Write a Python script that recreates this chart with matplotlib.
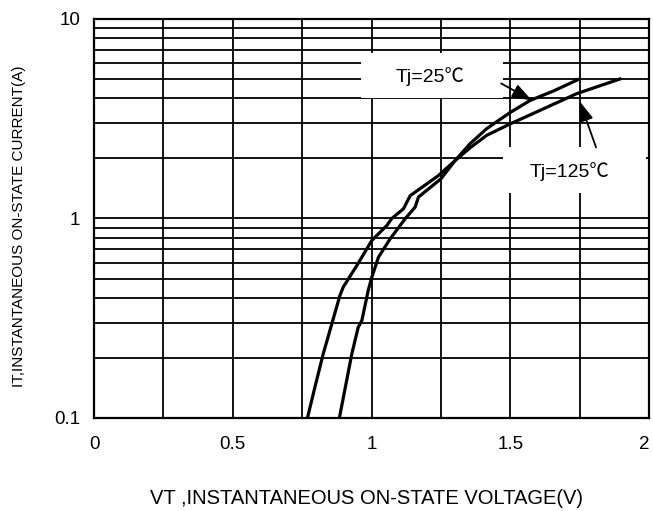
import numpy as np
import matplotlib
matplotlib.use('Agg')
import matplotlib.pyplot as plt
from matplotlib.patches import Rectangle
from matplotlib.ticker import MultipleLocator, FixedLocator, NullFormatter

plt.rcParams['font.family'] = ['Liberation Sans', 'DejaVu Sans']

# Tj = 125C curve (V, A)
v_125 = [0.769, 0.796, 0.826, 0.857, 0.886, 0.898, 0.947, 1.001, 1.055, 1.073,
         1.115, 1.139, 1.241, 1.301, 1.355, 1.415, 1.500, 1.607, 1.739, 1.895]
i_125 = [0.10, 0.143, 0.21, 0.297, 0.411, 0.453, 0.581, 0.776, 0.922, 1.0,
         1.118, 1.30, 1.64, 1.95, 2.26, 2.61, 2.98, 3.48, 4.22, 5.0]

# Tj = 25C curve
v_25 = [0.884, 0.929, 0.952, 0.965, 0.988, 1.001, 1.025, 1.067, 1.122,
        1.157, 1.169, 1.250, 1.301, 1.355, 1.415, 1.500, 1.571, 1.655, 1.745]
i_25 = [0.10, 0.21, 0.285, 0.308, 0.436, 0.508, 0.640, 0.791, 1.0,
        1.14, 1.28, 1.58, 1.95, 2.37, 2.82, 3.40, 3.90, 4.35, 4.97]

x_ticks = [0, 0.5, 1, 1.5, 2]
x_ticklabels = ['0', '0.5', '1', '1.5', '2']
y_ticks = [0.1, 1, 10]
y_ticklabels = ['0.1', '1', '10']

fig = plt.figure(figsize=(6.53, 5.11), dpi=100)
ax = fig.add_axes([0.144, 0.182, 0.850, 0.781])

ax.set_yscale('log')
ax.set_xlim(0, 2)
ax.set_ylim(0.1, 10)

ax.set_xticks(x_ticks)
ax.set_xticklabels(x_ticklabels)
ax.xaxis.set_minor_locator(MultipleLocator(0.25))
ax.set_yticks(y_ticks)
ax.set_yticklabels(y_ticklabels)
ax.yaxis.set_minor_locator(FixedLocator(
    [m * d for d in (0.1, 1) for m in range(2, 10)]))
ax.yaxis.set_minor_formatter(NullFormatter())

ax.tick_params(which='both', length=0)
ax.tick_params(axis='x', pad=13, labelsize=13.5)
ax.tick_params(axis='y', pad=10, labelsize=13.5)
# keep the "2" inside the picture
ax.get_xticklabels()[-1].set_horizontalalignment('right')
ax.get_xticklabels()[-1].set_x(2.0)

ax.grid(which='both', color='black', linewidth=1.3)
ax.set_axisbelow(True)
for s in ax.spines.values():
    s.set_linewidth(1.6)

# white boxes behind the labels
ax.add_patch(Rectangle((0.962, 4.0), 0.512, 2.71, facecolor='white',
                       edgecolor='none', zorder=2))
ax.add_patch(Rectangle((1.474, 1.335), 0.515, 0.935, facecolor='white',
                       edgecolor='none', zorder=2))

ax.plot(v_125, i_125, color='black', linewidth=2.3, zorder=3)
ax.plot(v_25, i_25, color='black', linewidth=2.3, zorder=3)

lab_font = ['Liberation Sans', 'Noto Sans CJK SC']
ax.text(1.21, 5.15, 'Tj=25℃', ha='center', va='center', fontsize=14, zorder=4,
        family=lab_font)
ax.text(1.715, 1.72, 'Tj=125℃', ha='center', va='center', fontsize=14, zorder=4,
        family=lab_font)

arrow = dict(arrowstyle='-|>,head_length=1.0,head_width=0.35', color='black',
             linewidth=1.3, shrinkA=0, shrinkB=0, mutation_scale=12)
ax.annotate('', xy=(1.578, 3.90), xytext=(1.467, 4.75), arrowprops=arrow, zorder=4)
ax.annotate('', xy=(1.750, 3.86), xytext=(1.809, 2.27), arrowprops=arrow, zorder=4)

ax.set_xlabel('VT ,INSTANTANEOUS ON-STATE VOLTAGE(V)', fontsize=14.5)
ax.xaxis.set_label_coords(0.49, -0.178)
ax.set_ylabel('IT,INSTANTANEOUS ON-STATE CURRENT(A)', fontsize=11)
ax.yaxis.set_label_coords(-0.122, 0.48)

fig.savefig('out.png', dpi=100)
